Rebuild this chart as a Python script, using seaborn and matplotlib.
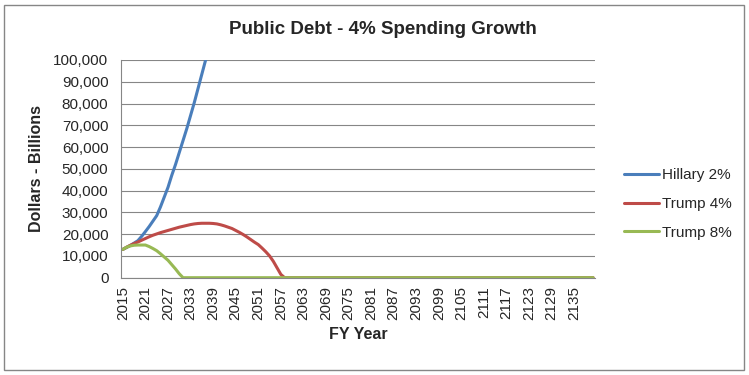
import numpy as np
import pandas as pd
import matplotlib
matplotlib.use("Agg")
import matplotlib.pyplot as plt
from matplotlib.patches import Rectangle
from matplotlib.ticker import FuncFormatter, MultipleLocator
import seaborn as sns

# Dados (bilhões de dólares)
years = list(range(2015, 2141))
tick_years = list(range(2015, 2141, 6))

hillary_2 = [13000, 13900, 14800, 15900, 17000, 19000, 21200, 23500, 26000, 28500,
             32500, 37000, 41500, 47000, 52000, 57500, 63000, 68500, 74500, 80500,
             87000, 93500, 100000, 106500, 113000]

trump_4 = [13000, 14000, 14900, 15700, 16400, 17200, 18000, 18800, 19500, 20100,
           20700, 21200, 21700, 22200, 22700, 23200, 23600, 24000, 24400, 24700,
           24900, 25000, 25000, 25000, 24900, 24700, 24300, 23800, 23200, 22600,
           21700, 20800, 19800, 18700, 17500, 16300, 15200, 13600, 11900, 10000,
           7500, 4500, 1500]
trump_4 = trump_4 + [0] * (len(years) - len(trump_4))

trump_8 = [13000, 14000, 14600, 14900, 15000, 15000, 15000, 14300, 13400, 12400,
           11000, 9500, 8000, 6000, 4000, 1800]
trump_8 = trump_8 + [0] * (len(years) - len(trump_8))

series_names = ["Hillary 2%", "Trump 4%", "Trump 8%"]
series_colors = ["#4A7EBB", "#BE4B48", "#98B954"]


def build_frame():
    rows = []
    for name, values in zip(series_names, [hillary_2, trump_4, trump_8]):
        for year, value in zip(years, values):
            rows.append({"year": year, "debt": value, "series": name})
    return pd.DataFrame(rows)


def main():
    sns.set_style("white")
    plt.rcParams["font.family"] = ["Liberation Sans", "DejaVu Sans"]

    df = build_frame()
    grid_color = "#868686"

    fig = plt.figure(figsize=(7.49, 3.75), dpi=100)
    ax = fig.add_axes([0.1615, 0.2595, 0.6329, 0.5805])

    sns.lineplot(data=df, x="year", y="debt", hue="series",
                 palette=dict(zip(series_names, series_colors)),
                 linewidth=2.2, ax=ax)

    # Eixos
    ax.set_xlim(2014.5, 2140.5)
    ax.set_ylim(0, 100000)
    ax.yaxis.set_major_locator(MultipleLocator(10000))
    ax.yaxis.set_major_formatter(FuncFormatter(lambda v, p: f"{int(v):,}"))
    ax.set_xticks(tick_years)
    ax.set_xticklabels([str(y) for y in tick_years], rotation=90)
    ax.set_xticks(np.arange(2014.5, 2141, 1), minor=True)
    ax.tick_params(axis="x", which="major", length=0, labelsize=11, pad=6)
    ax.tick_params(axis="x", which="minor", length=4, color=grid_color, width=0.8)
    ax.tick_params(axis="y", length=5, color=grid_color, width=0.8, labelsize=11, pad=4)
    ax.grid(axis="y", color=grid_color, linewidth=0.8)
    ax.grid(axis="x", visible=False)
    ax.set_axisbelow(True)

    for side in ["top", "right"]:
        ax.spines[side].set_visible(False)
    for side in ["left", "bottom"]:
        ax.spines[side].set_color(grid_color)
        ax.spines[side].set_linewidth(0.8)

    ax.set_xlabel("FY Year", fontsize=11.5, fontweight="bold", labelpad=5)
    ax.set_ylabel("Dollars - Billions", fontsize=11.5, fontweight="bold", labelpad=7)

    fig.text(0.511, 0.92, "Public Debt - 4% Spending Growth", ha="center", va="center",
             fontsize=13.5, fontweight="bold")

    # Legenda
    handles, labels = ax.get_legend_handles_labels()
    ax.legend(handles, labels, loc="center left", bbox_to_anchor=(0.815, 0.456),
              bbox_transform=fig.transFigure, frameon=False, fontsize=11,
              handlelength=2.3, handletextpad=0.2, labelspacing=0.95)

    # Borda externa
    fig.patches.append(Rectangle((4 / 749, 5 / 375), 740 / 749, 365 / 375,
                                 transform=fig.transFigure, fill=False,
                                 edgecolor=grid_color, linewidth=1))

    fig.savefig("out.png", dpi=100)
    plt.close(fig)


if __name__ == "__main__":
    main()
